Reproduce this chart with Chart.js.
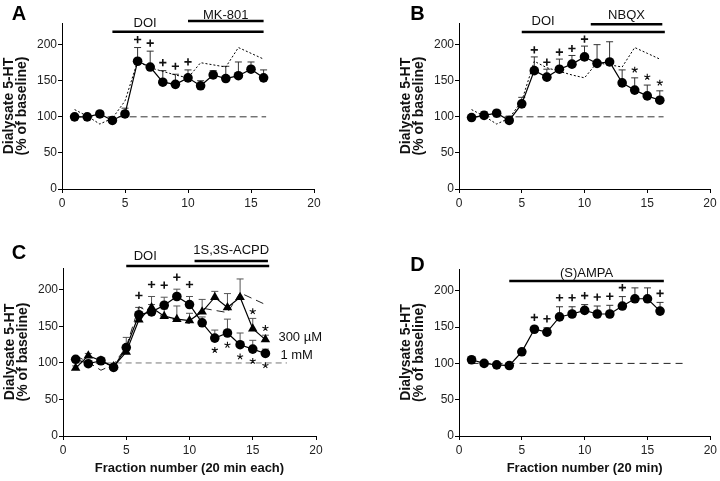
<!DOCTYPE html>
<html>
<head>
<meta charset="utf-8">
<script src="https://cdn.jsdelivr.net/npm/chart.js@4.4.1/dist/chart.umd.min.js"></script>
<style>
  html, body { margin: 0; padding: 0; background: #fff; }
  #wrap { position: relative; width: 720px; height: 481px; }
  canvas { position: absolute; }
</style>
</head>
<body>
<div id="wrap">
  <canvas id="cA" width="360" height="220" style="left:0;top:0"></canvas>
  <canvas id="cB" width="360" height="220" style="left:360px;top:0"></canvas>
  <canvas id="cC" width="360" height="261" style="left:0;top:220px"></canvas>
  <canvas id="cD" width="360" height="261" style="left:360px;top:220px"></canvas>
</div>
<script>
const FONT = "'Liberation Sans', Arial, Helvetica, sans-serif";

// fractions (20 min each)
const fractions = [1, 2, 3, 4, 5, 6, 7, 8, 9, 10, 11, 12, 13, 14, 15, 16];
const xMax = 20, xStep = 5;
const yMax = 230, yStep = 50;
const baseline = 100;

// DOI alone (reference trace drawn dotted / dashed)
const doiAlone = [110, 101, 90, 98, 122, 177, 168, 163, 158, 154, 175, 172, 169, 196, 188, 180];

// A: DOI + MK-801
const mk801 = [100, 100, 104, 95, 104, 177, 169, 148, 145, 154, 143, 158, 153, 157, 166, 154];
const mk801Err = [2, 2, 3, 3, 8, 19, 22, 16, 14, 11, 7, 6, 17, 19, 10, 11];
const mk801Plus = [6, 7, 8, 9, 10];
const drugsA = ['DOI', 'MK-801'];
const drugStartA = [4, 10];
const drugEndA = [16, 16];
const baseSpanA = [1, 16.2];

// B: DOI + NBQX
const nbqx = [99, 102, 105, 95, 118, 164, 155, 166, 173, 183, 174, 176, 147, 137, 129, 123];
const nbqxErr = [3, 5, 4, 6, 9, 19, 11, 14, 12, 15, 26, 28, 18, 17, 15, 13];
const nbqxPlus = [6, 7, 8, 9, 10];
const nbqxStar = [14, 15, 16];
const drugsB = ['DOI', 'NBQX'];
const drugStartB = [5, 10.5];
const drugEndB = [16.4, 16.2];
const baseSpanB = [1, 16.3];

// C: DOI + 1S,3S-ACPD
const acpdNames = ['1 mM', '300 µM'];
const acpd1mM = [105, 99, 103, 94, 121, 166, 170, 179, 191, 180, 155, 134, 141, 125, 119, 113];
const acpd1mMErr = [3, 3, 3, 3, 14, 10, 10, 11, 10, 11, 8, 11, 19, 16, 12, 6];
const acpd300 = [93, 110, 103, 95, 115, 159, 176, 164, 160, 158, 170, 190, 176, 190, 147, 132];
const acpd300Err = [3, 3, 3, 3, 6, 17, 15, 10, 18, 10, 17, 8, 19, 25, 14, 6];
const acpdPlus = [6, 7, 8, 9, 10];
const acpd1mMStar = [12, 13, 14, 15, 16];
const acpd300Star = [15, 16];
const drugsC = ['DOI', '1S,3S-ACPD'];
const drugStartC = [5, 10.4];
const drugEndC = [16.3, 16.2];
const baseSpanC = [1, 17.7];

// D: (S)AMPA alone
const ampa = [105, 100, 98, 97, 116, 147, 143, 164, 168, 173, 168, 168, 179, 189, 189, 172];
const ampaErr = [2, 2, 2, 2, 3, 4, 6, 14, 10, 8, 11, 12, 13, 15, 15, 12];
const ampaPlus = [6, 7, 8, 9, 10, 11, 12, 13, 16];
const drugsD = ['(S)AMPA'];
const drugStartD = [4];
const drugEndD = [16.3];
const baseSpanD = [1, 17.8];

const yTitle = ['Dialysate 5-HT', '(% of baseline)'];

function drawMark(ctx, kind, x, y) {
  ctx.save();
  ctx.strokeStyle = '#111';
  ctx.beginPath();
  if (kind === '+') {
    ctx.lineWidth = 1.6;
    ctx.moveTo(x - 3.6, y); ctx.lineTo(x + 3.6, y);
    ctx.moveTo(x, y - 3.6); ctx.lineTo(x, y + 3.6);
  } else {
    ctx.lineWidth = 1.1;
    for (let a = 0; a < 5; a++) {
      const t = -Math.PI / 2 + a * 2 * Math.PI / 5;
      ctx.moveTo(x, y);
      ctx.lineTo(x + Math.cos(t) * 3.2, y + Math.sin(t) * 3.2);
    }
  }
  ctx.stroke();
  ctx.restore();
}

const decor = {
  id: 'decor',
  beforeDatasetsDraw(chart) {
    const ctx = chart.ctx, ys = chart.scales.y;
    chart.data.datasets.forEach((ds, i) => {
      if (!ds.errPlus) return;
      const pts = chart.getDatasetMeta(i).data;
      ctx.save();
      ctx.strokeStyle = ds.errColor;
      ctx.lineWidth = 1;
      pts.forEach((p, k) => {
        const top = ys.getPixelForValue(ds.data[k].y + ds.errPlus[k]);
        ctx.beginPath();
        ctx.moveTo(p.x, p.y); ctx.lineTo(p.x, top);
        ctx.moveTo(p.x - 3.5, top); ctx.lineTo(p.x + 3.5, top);
        ctx.stroke();
      });
      ctx.restore();
    });
  },
  afterDraw(chart, args, o) {
    const ctx = chart.ctx, xs = chart.scales.x, ys = chart.scales.y, area = chart.chartArea;
    // significance marks
    (o.marks || []).forEach(m => {
      m.at.forEach(f => {
        const k = fractions.indexOf(f);
        let py;
        if (m.side === 'above') {
          py = Math.min(...m.ds.map(i => {
            const d = chart.data.datasets[i];
            return ys.getPixelForValue(d.data[k].y + d.errPlus[k]);
          })) - m.gap;
        } else {
          py = chart.getDatasetMeta(m.ds[0]).data[k].y + m.gap;
        }
        drawMark(ctx, m.kind, xs.getPixelForValue(f), py);
      });
    });
    // treatment bars
    ctx.save();
    ctx.fillStyle = '#111';
    ctx.strokeStyle = '#000';
    ctx.font = '13px ' + FONT;
    ctx.textAlign = 'center';
    ctx.textBaseline = 'middle';
    o.drugs.names.forEach((name, i) => {
      const b = o.bars[i];
      const x0 = xs.getPixelForValue(o.drugs.start[i]);
      const x1 = xs.getPixelForValue(o.drugs.end[i]);
      const by = area.top + b.dy;
      ctx.lineWidth = 2.5;
      ctx.beginPath(); ctx.moveTo(x0, by); ctx.lineTo(x1, by); ctx.stroke();
      const tx = b.tx != null ? xs.getPixelForValue(b.tx) : (x0 + x1) / 2;
      ctx.fillText(name, tx, area.top + b.ty);
    });
    // series labels at line ends
    ctx.textAlign = 'left';
    (o.ends || []).forEach(e => {
      const pts = chart.getDatasetMeta(e.ds).data;
      const p = pts[pts.length - 1];
      ctx.fillText(e.text, p.x + e.dx, p.y + e.dy);
    });
    // panel letter
    ctx.font = 'bold 20px ' + FONT;
    ctx.textAlign = 'center';
    ctx.fillStyle = '#000';
    ctx.fillText(o.letter, o.letterPos[0], o.letterPos[1]);
    ctx.restore();
  }
};

function makePanel(id, cfg) {
  const datasets = cfg.series.map(s => ({
    data: fractions.map((f, k) => ({ x: f, y: s.values[k] })),
    errPlus: s.err,
    errColor: cfg.errColor,
    borderColor: s.color || '#000',
    borderWidth: s.width || 1.2,
    borderDash: s.dash || [],
    pointRadius: s.radius || 0,
    pointStyle: s.style || 'circle',
    pointBackgroundColor: '#000',
    pointBorderWidth: 0,
    pointHoverRadius: 0,
    fill: false,
    tension: 0
  }));
  datasets.push({
    data: cfg.baseSpan.map(v => ({ x: v, y: baseline })),
    borderColor: cfg.baseColor,
    borderWidth: 1,
    borderDash: cfg.baseDash,
    pointRadius: 0,
    fill: false
  });

  new Chart(document.getElementById(id), {
    type: 'line',
    data: { datasets },
    options: {
      responsive: false,
      animation: false,
      devicePixelRatio: 1,
      layout: { padding: cfg.pad },
      plugins: {
        legend: { display: false },
        tooltip: { enabled: false },
        decor: cfg.decor
      },
      scales: {
        x: {
          type: 'linear', min: 0, max: xMax,
          afterFit(s) { s.height = cfg.xH; },
          border: { color: '#000', width: 1 },
          grid: { drawOnChartArea: false, tickLength: 4, color: '#000' },
          ticks: { stepSize: xStep, color: '#222', padding: 3, maxRotation: 0,
                   font: { family: FONT, size: 12 } },
          title: cfg.xTitle
            ? { display: true, text: cfg.xTitle, color: '#111',
                font: { family: FONT, size: 13, weight: 'bold' }, padding: { top: 0, bottom: 5 } }
            : { display: false }
        },
        y: {
          type: 'linear', min: 0, max: yMax,
          afterFit(s) { s.width = 62; },
          border: { color: '#000', width: 1 },
          grid: { drawOnChartArea: false, tickLength: 4, color: '#000' },
          ticks: { stepSize: yStep, includeBounds: false, color: '#222', padding: 1,
                   font: { family: FONT, size: 12 } },
          title: { display: true, text: yTitle, color: '#111',
                   font: { family: FONT, size: 14, weight: 'bold', lineHeight: 0.95 },
                   padding: { top: 2, bottom: 0 } }
        }
      }
    },
    plugins: [decor]
  });
}

makePanel('cA', {
  pad: { left: 0, top: 23, right: 46, bottom: 0 }, xH: 31,
  errColor: '#333', baseColor: '#333', baseDash: [7, 4], baseSpan: baseSpanA,
  series: [
    { values: mk801, err: mk801Err, radius: 4.8 },
    { values: doiAlone, width: 1, dash: [2, 2] }
  ],
  decor: {
    letter: 'A', letterPos: [19, 14],
    drugs: { names: drugsA, start: drugStartA, end: drugEndA },
    bars: [{ dy: 8.7, ty: 0.7, tx: 6.6 }, { dy: -2, ty: -8 }],
    marks: [{ ds: [0], at: mk801Plus, kind: '+', side: 'above', gap: 8 }]
  }
});

makePanel('cB', {
  pad: { left: 37, top: 23, right: 10, bottom: 0 }, xH: 31,
  errColor: '#333', baseColor: '#333', baseDash: [7, 4], baseSpan: baseSpanB,
  series: [
    { values: nbqx, err: nbqxErr, radius: 4.8 },
    { values: doiAlone, width: 1, dash: [2, 2] }
  ],
  decor: {
    letter: 'B', letterPos: [57.5, 14],
    drugs: { names: drugsB, start: drugStartB, end: drugEndB },
    bars: [{ dy: 9, ty: -1.3, tx: 6.7 }, { dy: 1.3, ty: -8 }],
    marks: [
      { ds: [0], at: nbqxPlus, kind: '+', side: 'above', gap: 7 },
      { ds: [0], at: nbqxStar, kind: '*', side: 'above', gap: 8 }
    ]
  }
});

makePanel('cC', {
  pad: { left: 1, top: 48, right: 44, bottom: 0 }, xH: 45,
  xTitle: 'Fraction number (20 min each)',
  errColor: '#555', baseColor: '#777', baseDash: [6, 4], baseSpan: baseSpanC,
  series: [
    { values: acpd1mM, err: acpd1mMErr, radius: 4.8 },
    { values: acpd300, err: acpd300Err, radius: 5.5, style: 'triangle' },
    { values: doiAlone, width: 1, dash: [8, 5], color: '#222' }
  ],
  decor: {
    letter: 'C', letterPos: [19, 33],
    drugs: { names: drugsC, start: drugStartC, end: drugEndC },
    bars: [{ dy: -2, ty: -11.5, tx: 6.5 }, { dy: -7, ty: -18 }],
    marks: [
      { ds: [0, 1], at: acpdPlus, kind: '+', side: 'above', gap: 12 },
      { ds: [0], at: acpd1mMStar, kind: '*', side: 'below', gap: 12 },
      { ds: [1], at: acpd300Star, kind: '*', side: 'above', gap: 7 }
    ],
    ends: [
      { ds: 1, text: acpdNames[1], dx: 13, dy: -2 },
      { ds: 0, text: acpdNames[0], dx: 15, dy: 2 }
    ]
  }
});

makePanel('cD', {
  pad: { left: 37, top: 49, right: 9, bottom: 0 }, xH: 45,
  xTitle: 'Fraction number (20 min)',
  errColor: '#333', baseColor: '#222', baseDash: [7, 5], baseSpan: baseSpanD,
  series: [
    { values: ampa, err: ampaErr, radius: 4.8 }
  ],
  decor: {
    letter: 'D', letterPos: [57.5, 45],
    drugs: { names: drugsD, start: drugStartD, end: drugEndD },
    bars: [{ dy: 12, ty: 4 }],
    marks: [{ ds: [0], at: ampaPlus, kind: '+', side: 'above', gap: 9 }]
  }
});
</script>
</body>
</html>
